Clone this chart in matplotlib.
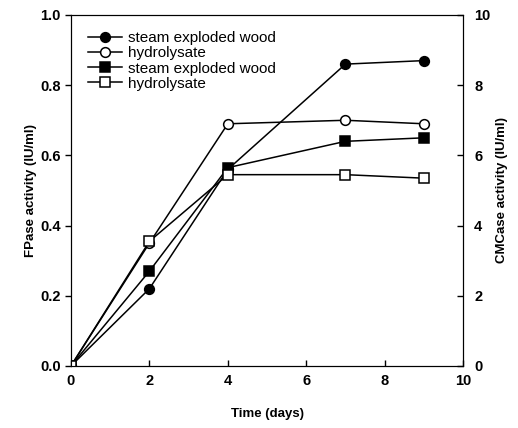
import numpy as np
import matplotlib.pyplot as plt

plt.rcParams['font.family'] = ['Liberation Sans', 'DejaVu Sans']

# Data
days = [0, 2, 4, 7, 9]
fpase_wood = [0.0, 0.22, 0.56, 0.86, 0.87]        # left axis
fpase_hydro = [0.0, 0.35, 0.69, 0.70, 0.69]       # left axis
cmcase_wood = [0.0, 2.7, 5.65, 6.4, 6.5]          # right axis
cmcase_hydro = [0.0, 3.55, 5.45, 5.45, 5.35]      # right axis

fig = plt.figure(figsize=(5.18, 4.28), dpi=100)
ax = fig.add_axes([0.137, 0.145, 0.757, 0.82])
ax2 = ax.twinx()

mk = dict(markersize=7, linewidth=1.1, color='black', markeredgecolor='black', markeredgewidth=1.1)
l1, = ax.plot(days, fpase_wood, marker='o', markerfacecolor='black', label='steam exploded wood', **mk)
l2, = ax.plot(days, fpase_hydro, marker='o', markerfacecolor='white', label='hydrolysate', **mk)
l3, = ax2.plot(days, cmcase_wood, marker='s', markerfacecolor='black', label='steam exploded wood', **mk)
l4, = ax2.plot(days, cmcase_hydro, marker='s', markerfacecolor='white', label='hydrolysate', **mk)

ax.set_xlim(0, 10)
ax.set_ylim(0, 1.0)
ax2.set_ylim(0, 10)
ax.set_xticks(np.arange(0, 11, 2))
ax.set_yticks(np.arange(0, 1.01, 0.2))
ax.set_yticklabels([f'{v:.1f}' for v in np.arange(0, 1.01, 0.2)])
ax2.set_yticks(np.arange(0, 11, 2))

for a in (ax, ax2):
    for lab in a.get_xticklabels() + a.get_yticklabels():
        lab.set_fontweight('bold')
        lab.set_fontsize(10.5)
ax.tick_params(axis='x', direction='in', length=4, width=1, pad=6)
ax.tick_params(axis='y', direction='out', length=4, width=1)
ax2.tick_params(axis='y', direction='in', length=4, width=1, pad=8)

ax.set_xlabel('Time (days)', fontsize=9.5, fontweight='bold', labelpad=14)
ax.set_ylabel('FPase activity (IU/ml)', fontsize=9.5, fontweight='bold', labelpad=2)
ax2.set_ylabel('CMCase activity (IU/ml)', fontsize=9.5, fontweight='bold', labelpad=4)

ax.legend(handles=[l1, l2, l3, l4], loc='upper left', bbox_to_anchor=(0.02, 0.98),
          frameon=False, fontsize=11, handlelength=2.2, handletextpad=0.4,
          labelspacing=0.08, borderaxespad=0.2)

plt.savefig('out.png', dpi=100)
